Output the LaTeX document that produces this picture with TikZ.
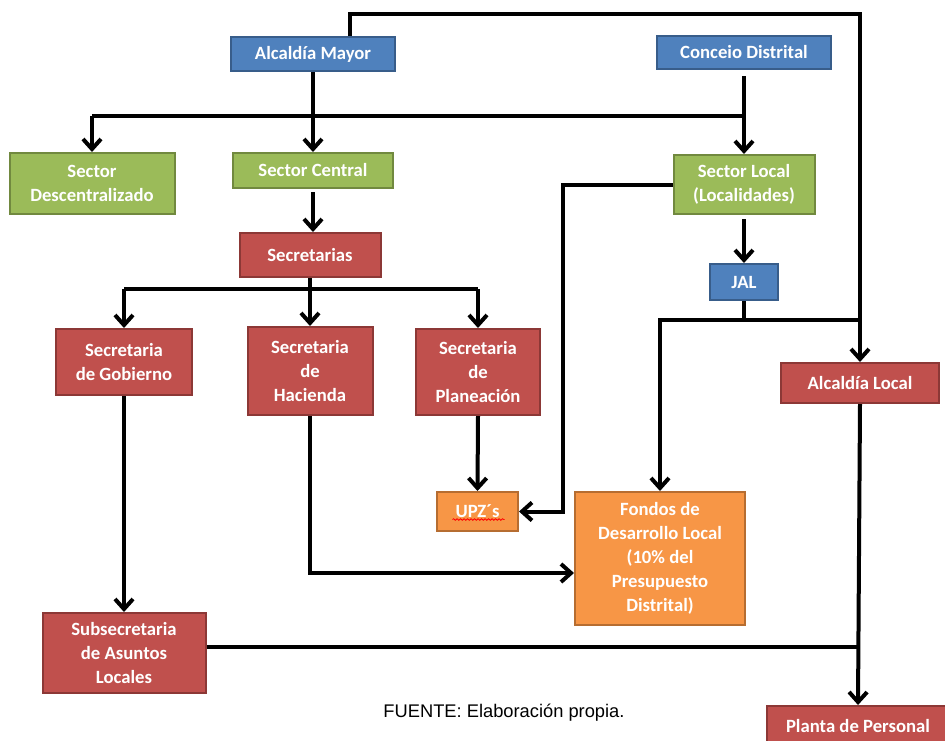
\documentclass[tikz,border=0pt]{standalone}
\usepackage{fontspec}
\setmainfont{Carlito}
\newfontfamily\arialfont{Liberation Sans}
\usetikzlibrary{arrows.meta,decorations.pathmorphing}

\definecolor{azulF}{HTML}{4F81BD}
\definecolor{azulB}{HTML}{385D8A}
\definecolor{verdeF}{HTML}{9BBB59}
\definecolor{verdeB}{HTML}{71893F}
\definecolor{rojoF}{HTML}{C0504D}
\definecolor{rojoB}{HTML}{8C3836}
\definecolor{naranjaF}{HTML}{F79646}
\definecolor{naranjaB}{HTML}{B66D31}

\tikzset{
  box/.style={draw, line width=2pt, inner sep=0pt, align=center, text=white,
    font=\bfseries\fontsize{18.7}{24}\selectfont},
  azul/.style={box, fill=azulF, draw=azulB},
  verde/.style={box, fill=verdeF, draw=verdeB},
  rojo/.style={box, fill=rojoF, draw=rojoB},
  naranja/.style={box, fill=naranjaF, draw=naranjaB},
  linea/.style={line width=4pt},
  flecha/.style={line width=4pt, -{Straight Barb[length=10pt,width=18pt]}},
  fuente/.style={font=\arialfont\fontsize{18.3}{22}\selectfont},
}

\begin{document}
\begin{tikzpicture}[x=1pt,y=-1pt]
\useasboundingbox (0,0) rectangle (945,740);

\node[azul, minimum width=164, minimum height=34] (am) at (313,54) {Alcaldía Mayor};
\node[azul, minimum width=174, minimum height=33] (cd) at (744,52.5) {Conceio Distrital};
\node[verde, minimum width=165, minimum height=61] (sd) at (92,183.5) {Sector\\Descentralizado};
\node[verde, minimum width=160, minimum height=35] (sc) at (313,170.5) {Sector Central};
\node[verde, minimum width=141, minimum height=59] (sl) at (744,184.5) {Sector Local\\(Localidades)};
\node[rojo, minimum width=141, minimum height=44] (sec) at (310,255) {Secretarias};
\node[azul, minimum width=68, minimum height=36] (jal) at (744,282) {JAL};
\node[rojo, minimum width=136, minimum height=66] (gob) at (124,362) {Secretaria\\de Gobierno};
\node[rojo, minimum width=125, minimum height=88] (hac) at (310,371) {Secretaria\\de\\Hacienda};
\node[rojo, minimum width=124, minimum height=86] (pla) at (478,372) {Secretaria\\de\\Planeación};
\node[rojo, minimum width=158, minimum height=40] (al) at (860,383) {Alcaldía Local};
\node[naranja, minimum width=81, minimum height=39] (upz) at (477.5,511.5) {UPZ´s};
\node[naranja, minimum width=170, minimum height=133] (fon) at (660,558.5) {Fondos de\\Desarrollo Local\\(10\% del\\Presupuesto\\Distrital)};
\node[rojo, minimum width=163, minimum height=80] (sub) at (124,653) {Subsecretaria\\de Asuntos\\Locales};
\node[rojo, minimum width=182, minimum height=40] (pp) at (858,726) {Planta de Personal};
\node[fuente] (src) at (504,713) {FUENTE: Elaboración propia.};

\draw[red, line width=0.8pt, decorate, decoration={snake,amplitude=0.8pt,segment length=3.5pt}] (upz.center) ++(-25,8) -- ++(52,0);

\coordinate (t) at (350,14);
\coordinate (j1) at (313,116);
\coordinate (j2) at (310,289);
\coordinate (j3) at (744,320);
\coordinate (c1) at (563,400);
\coordinate (c2) at (310,573);
\coordinate (c3) at (0,647);

\draw[flecha] (t |- am.north) -- (t) -| (al.north);
\draw[linea] (sd.north |- j1) -- (sl.north |- j1);
\draw[flecha] (am.south) -- (sc.north);
\draw[flecha] (sd.north |- j1) -- (sd.north);
\draw[flecha, shorten <=6pt] (cd.south) -- (sl.north);
\draw[flecha, shorten <=3pt] (sc.south) -- (sc.south |- sec.north);
\draw[linea] (gob.north |- j2) -- (pla.north |- j2);
\draw[flecha] (gob.north |- j2) -- (gob.north);
\draw[flecha] (sec.south) -- (hac.north);
\draw[flecha] (pla.north |- j2) -- (pla.north);
\draw[flecha] (pla.south) -- (upz.north);
\draw[flecha, shorten <=4pt] (sl.south) -- (jal.north);
\draw[flecha] (sl.west) -| (c1) |- (upz.east);
\draw[linea] (jal.south) -- (j3);
\draw[flecha] (j3) -| (fon.north);
\draw[linea] (j3) -- (j3 -| al.north);
\draw[flecha] (hac.south) |- (fon.west |- c2);
\draw[flecha] (gob.south) -- (sub.north);
\draw[linea] (sub.east |- c3) -- (al.south |- c3);
\draw[flecha] (al.south) -- (pp.north);
\end{tikzpicture}
\end{document}
